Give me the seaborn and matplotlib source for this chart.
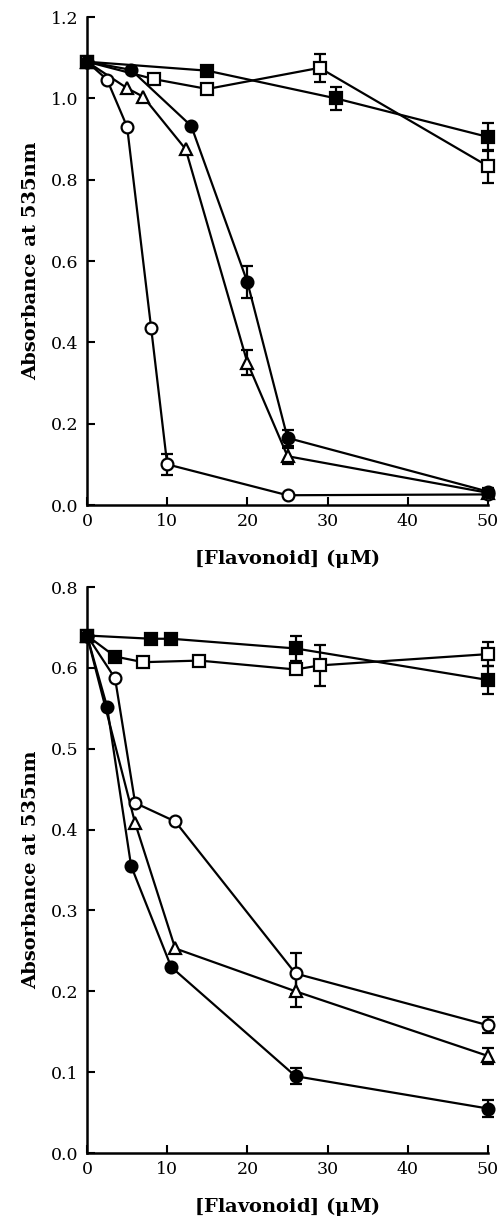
import matplotlib
matplotlib.use("Agg")
import matplotlib.pyplot as plt
import seaborn as sns
import numpy as np

sns.set_style("ticks")
plt.rcParams['font.family'] = ['DejaVu Serif']
plt.rcParams['mathtext.fontset'] = 'dejavuserif'
plt.rcParams['text.color'] = 'black'
plt.rcParams['axes.labelcolor'] = 'black'
plt.rcParams['xtick.color'] = 'black'
plt.rcParams['ytick.color'] = 'black'

# ---------------- Top panel data ----------------
top_fc_x = [0, 5.5, 13, 20, 25, 50]
top_fc_y = [1.09, 1.07, 0.932, 0.548, 0.165, 0.033]
top_fc_e = [0, 0, 0, 0.04, 0.02, 0.01]

top_oc_x = [0, 2.5, 5, 8, 10, 25, 50]
top_oc_y = [1.09, 1.046, 0.93, 0.435, 0.10, 0.024, 0.026]
top_oc_e = [0, 0, 0, 0, 0.025, 0, 0]

top_tr_x = [0, 5, 7, 12.3, 20, 25, 50]
top_tr_y = [1.09, 1.025, 1.004, 0.875, 0.35, 0.12, 0.03]
top_tr_e = [0, 0, 0, 0, 0.03, 0.02, 0]

top_fs_x = [0, 15, 31, 50]
top_fs_y = [1.09, 1.068, 1.0, 0.905]
top_fs_e = [0, 0, 0.028, 0.035]

top_os_x = [0, 8.4, 15, 29, 50]
top_os_y = [1.09, 1.047, 1.023, 1.075, 0.833]
top_os_e = [0, 0, 0, 0.035, 0.04]

# ---------------- Bottom panel data ----------------
bot_fc_x = [0, 2.5, 5.5, 10.5, 26, 50]
bot_fc_y = [0.64, 0.552, 0.355, 0.23, 0.095, 0.055]
bot_fc_e = [0, 0, 0, 0, 0.01, 0.01]

bot_oc_x = [0, 3.5, 6, 11, 26, 50]
bot_oc_y = [0.64, 0.587, 0.433, 0.41, 0.222, 0.158]
bot_oc_e = [0, 0, 0, 0, 0.025, 0.01]

bot_tr_x = [0, 6, 11, 26, 50]
bot_tr_y = [0.64, 0.408, 0.253, 0.2, 0.12]
bot_tr_e = [0, 0, 0, 0.02, 0.01]

bot_fs_x = [0, 8, 10.5, 26, 50]
bot_fs_y = [0.64, 0.636, 0.636, 0.624, 0.585]
bot_fs_e = [0, 0, 0, 0.015, 0.017]

bot_os_x = [0, 3.5, 7, 14, 26, 29, 50]
bot_os_y = [0.64, 0.614, 0.607, 0.609, 0.598, 0.603, 0.617]
bot_os_e = [0, 0, 0, 0, 0, 0.025, 0.015]
bot_os_filled = [False, True, False, False, False, False, False]

x_ticks = [0, 10, 20, 30, 40, 50]
top_yticks = [0.0, 0.2, 0.4, 0.6, 0.8, 1.0, 1.2]
top_ylabels = ['0.0', '0.2', '0.4', '0.6', '0.8', '1.0', '1.2']
bot_yticks = [0.0, 0.1, 0.2, 0.3, 0.4, 0.5, 0.6, 0.7]
bot_ylabels = ['0.0', '0.1', '0.2', '0.3', '0.4', '0.5', '0.6', '0.8']

xlabel = '[Flavonoid] ($\\mathbf{\\mu}$M)'
ylabel = 'Absorbance at 535nm'

fig = plt.figure(figsize=(5.03, 12.18), dpi=100)
ax1 = fig.add_axes([87/503, 1 - 505/1218, 401/503, 488/1218])
ax2 = fig.add_axes([87/503, 1 - 1153/1218, 401/503, 566/1218])

MS = 8.5
LW = 1.6


def series(ax, x, y, e, marker, filled, zorder=3):
    sns.lineplot(x=x, y=y, ax=ax, color='black', linewidth=LW, marker=marker,
                 markersize=MS, markerfacecolor='black' if filled else 'white',
                 markeredgecolor='black', markeredgewidth=1.6, sort=False,
                 estimator=None, clip_on=False, zorder=zorder)
    xe = [xi for xi, ei in zip(x, e) if ei > 0]
    ye = [yi for yi, ei in zip(y, e) if ei > 0]
    ee = [ei for ei in e if ei > 0]
    if ee:
        ax.errorbar(xe, ye, yerr=ee, fmt='none', ecolor='black', elinewidth=1.6,
                    capsize=4, capthick=1.6, clip_on=False, zorder=zorder - 1)


series(ax1, top_fs_x, top_fs_y, top_fs_e, 's', True)
series(ax1, top_os_x, top_os_y, top_os_e, 's', False)
series(ax1, top_tr_x, top_tr_y, top_tr_e, '^', False)
series(ax1, top_oc_x, top_oc_y, top_oc_e, 'o', False)
series(ax1, top_fc_x, top_fc_y, top_fc_e, 'o', True, zorder=5)

series(ax2, bot_fs_x, bot_fs_y, bot_fs_e, 's', True)
series(ax2, bot_os_x, bot_os_y, bot_os_e, 's', False)
ax2.scatter([xx for xx, f in zip(bot_os_x, bot_os_filled) if f],
            [yy for yy, f in zip(bot_os_y, bot_os_filled) if f],
            marker='s', s=MS**2 * 0.8, color='black', zorder=6, clip_on=False)
series(ax2, bot_tr_x, bot_tr_y, bot_tr_e, '^', False)
series(ax2, bot_oc_x, bot_oc_y, bot_oc_e, 'o', False)
series(ax2, bot_fc_x, bot_fc_y, bot_fc_e, 'o', True, zorder=5)

for ax, yt, yl, ylim in [(ax1, top_yticks, top_ylabels, (0, 1.2)),
                         (ax2, bot_yticks, bot_ylabels, (0, 0.7))]:
    ax.set_xlim(0, 50)
    ax.set_ylim(*ylim)
    ax.set_xticks(x_ticks)
    ax.set_xticklabels([str(t) for t in x_ticks])
    ax.set_yticks(yt)
    ax.set_yticklabels(yl)
    ax.tick_params(direction='in', length=6, width=1.5, labelsize=12.5, pad=6,
                   colors='black', labelcolor='black')
    for s in ['top', 'right']:
        ax.spines[s].set_visible(False)
    for s in ['left', 'bottom']:
        ax.spines[s].set_linewidth(1.8)
        ax.spines[s].set_color('black')
    ax.set_xlabel(xlabel, fontsize=14, fontweight='bold', labelpad=12, color='black')
    ax.set_ylabel(ylabel, fontsize=14, fontweight='bold', labelpad=8, color='black')
    ax.set_facecolor('white')

fig.savefig('out.png', dpi=100, facecolor='white')
